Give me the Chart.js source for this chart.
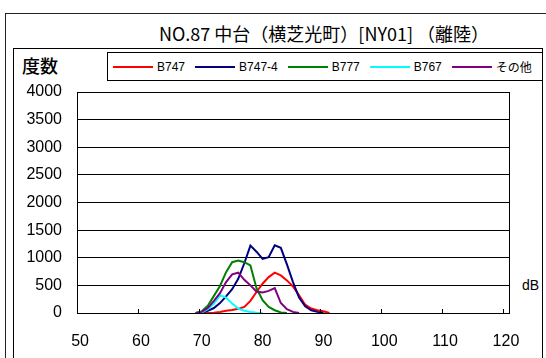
<!DOCTYPE html>
<html><head><meta charset="utf-8">
<script src="https://cdn.jsdelivr.net/npm/chart.js@4.4.0/dist/chart.umd.min.js"></script>
<style>
html,body{margin:0;padding:0;background:#fff;width:546px;height:358px;overflow:hidden;}
body{position:relative;font-family:"Liberation Sans",Arial,sans-serif;color:#000;}
#outer{position:absolute;left:5px;top:13px;width:600px;height:400px;border:1.5px solid #222;box-sizing:border-box;}
#inner{position:absolute;left:13px;top:48px;width:530px;height:400px;border:1px solid #000;box-sizing:border-box;}
#title{position:absolute;left:106px;width:436px;top:19px;height:28px;line-height:28px;text-align:center;font-family:"Noto Sans CJK JP",sans-serif;font-size:18px;white-space:nowrap;}
#ylab{position:absolute;left:22px;top:53px;line-height:24px;font-family:"Noto Sans CJK JP",sans-serif;font-size:18px;font-weight:500;}
#legend{position:absolute;left:107px;top:52px;width:436px;height:29px;border:1px solid #000;box-sizing:border-box;display:flex;align-items:center;padding-left:5px;font-size:12px;white-space:nowrap;}
#legend .it{display:flex;align-items:center;margin-right:10px;}
#legend .ln{width:40px;height:2px;margin-right:4px;}
#legend .tx{font-family:"Liberation Sans","Noto Sans CJK JP",sans-serif;}
#db{position:absolute;left:522px;top:276px;font-size:14px;line-height:18px;}
#c{position:absolute;left:0;top:0;}
</style></head>
<body>
<div id="outer"></div>
<div id="inner"></div>
<div id="title">NO.87 中台（横芝光町）[NY01] （離陸）</div>
<div id="ylab">度数</div>
<div id="legend"></div>
<div id="db">dB</div>
<canvas id="c" width="546" height="358"></canvas>
<script>
// x categories (dB) shown on the axis
const xMin = 50;
const xMax = 120;
const xTickLabels = [50, 60, 70, 80, 90, 100, 110, 120];
const yTickLabels = [0, 500, 1000, 1500, 2000, 2500, 3000, 3500, 4000];

// dB values for which data exists
const dB = [69,70,71,72,73,74,75,76,77,78,79,80,81,82,83,84,85,86,87,88,89,90,91];

const seriesNames = ['B747', 'B747-4', 'B777', 'B767', 'その他'];
const seriesColors = ['#FF0000', '#000080', '#008000', '#00FFFF', '#800080'];

const b747   = [0,0,0,5,20,40,55,75,110,220,380,530,650,730,680,590,480,320,150,80,50,30,0];
const b747_4 = [0,10,40,90,180,300,430,620,900,1220,1110,980,1010,1225,1180,880,560,280,120,50,20,0,null];
const b777   = [0,30,130,310,490,740,920,950,920,860,450,230,110,50,10,0,null,null,null,null,null,null,null];
const b767   = [0,10,70,170,320,280,170,80,40,20,5,0,null,null,null,null,null,null,null,null,null,null,null];
const other  = [0,20,90,220,360,560,700,730,600,500,390,370,400,450,180,70,20,0,null,null,null,null,null];

const seriesValues = [b747, b747_4, b777, b767, other];

// HTML legend built from series names/colors
const lg = document.getElementById('legend');
seriesNames.forEach((n, i) => {
  const it = document.createElement('div'); it.className = 'it';
  const ln = document.createElement('div'); ln.className = 'ln'; ln.style.background = seriesColors[i];
  const tx = document.createElement('div'); tx.className = 'tx'; tx.textContent = n;
  it.appendChild(ln); it.appendChild(tx); lg.appendChild(it);
});

const datasets = seriesNames.map((n, i) => ({
  label: n,
  data: dB.map((x, k) => ({x: x, y: seriesValues[i][k]})),
  borderColor: seriesColors[i],
  backgroundColor: seriesColors[i],
  borderWidth: 2,
  pointRadius: 0,
  tension: 0,
  spanGaps: false,
  order: seriesNames.length - i
}));

const framePlugin = {
  id: 'frame',
  afterDraw(chart) {
    const {ctx, chartArea: a, scales: {x}} = chart;
    ctx.save();
    ctx.strokeStyle = '#000';
    ctx.lineWidth = 1;
    ctx.beginPath();
    ctx.moveTo(Math.round(a.right) + 0.5, a.top);
    ctx.lineTo(Math.round(a.right) + 0.5, a.bottom);
    // inward tick marks at category boundaries
    xTickLabels.forEach(v => {
      const px = Math.round(x.getPixelForValue(v - 0.5)) + 0.5;
      ctx.moveTo(px, a.bottom);
      ctx.lineTo(px, a.bottom - 4);
    });
    ctx.stroke();
    ctx.restore();
  }
};

new Chart(document.getElementById('c'), {
  type: 'line',
  data: {datasets},
  plugins: [framePlugin],
  options: {
    responsive: false,
    animation: false,
    events: [],
    layout: {padding: {left: 0, top: 92, right: 37, bottom: 0}},
    plugins: {legend: {display: false}, title: {display: false}, tooltip: {enabled: false}},
    scales: {
      x: {
        type: 'linear',
        min: xMin - 0.5,
        max: xMax + 0.5,
        afterBuildTicks(s) { s.ticks = xTickLabels.map(v => ({value: v})); },
        afterFit(s) { s.height = 45; },
        grid: {display: false, drawTicks: false},
        border: {display: true, color: '#000', width: 1},
        ticks: {padding: 19, color: '#000', font: {family: 'Liberation Sans', size: 16}, maxRotation: 0,
                callback: v => String(v)}
      },
      y: {
        min: 0,
        max: 4000,
        afterBuildTicks(s) { s.ticks = yTickLabels.map(v => ({value: v})); },
        afterFit(s) { s.width = 77; },
        grid: {color: '#000', lineWidth: 1, drawTicks: false},
        border: {display: true, color: '#000', width: 1},
        ticks: {padding: 15, color: '#000', font: {family: 'Liberation Sans', size: 16},
                callback: v => String(v)}
      }
    }
  }
});
</script>
</body></html>
